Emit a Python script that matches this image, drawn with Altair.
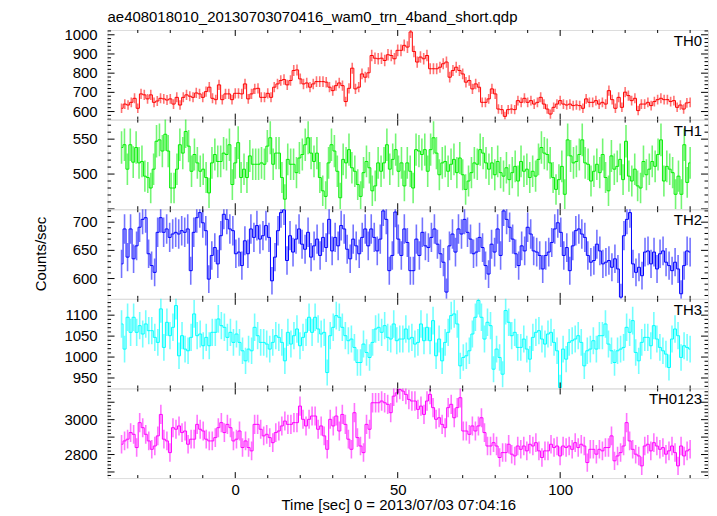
import altair as alt
import numpy as np
import pandas as pd

# ---------------- data (counts/sec per 1-s bin) ----------------
T_START, T_END = -35, 140

TH0 = [617, 639, 634, 648, 669, 617, 692, 687, 666, 687, 648, 655, 669, 666, 660, 666, 639, 674, 634, 674,
       687, 680, 674, 697, 692, 674, 704, 727, 669, 662, 739, 662, 692, 692, 662, 695, 695, 692, 744, 666,
       692, 718, 721, 674, 674, 695, 674, 727, 744, 762, 767, 739, 762, 814, 817, 770, 744, 749, 727, 744,
       756, 756, 756, 753, 727, 709, 735, 749, 735, 652, 721, 826, 718, 727, 796, 779, 802, 892, 878, 875,
       878, 866, 896, 892, 875, 919, 919, 945, 936, 1015, 913, 858, 884, 875, 892, 823, 823, 823, 831, 849,
       858, 779, 814, 831, 814, 796, 753, 762, 718, 744, 727, 648, 648, 666, 718, 692, 613, 610, 575, 610,
       613, 610, 657, 648, 669, 648, 657, 639, 648, 674, 639, 613, 587, 622, 639, 657, 639, 634, 639, 631,
       634, 631, 617, 666, 648, 648, 657, 639, 648, 639, 709, 662, 617, 674, 622, 701, 683, 657, 669, 605,
       639, 639, 648, 631, 652, 662, 669, 662, 662, 652, 657, 622, 634, 613, 645, 648]

TH1 = [538, 542, 507, 542, 517, 538, 516, 518, 497, 495, 480, 507, 547, 549, 533, 557, 533, 480, 480, 507,
       542, 530, 561, 540, 504, 528, 516, 504, 507, 495, 473, 516, 528, 518, 518, 530, 528, 542, 485, 516,
       545, 495, 507, 495, 526, 514, 514, 514, 516, 514, 540, 552, 514, 530, 530, 495, 464, 521, 514, 514,
       502, 523, 528, 542, 552, 530, 518, 530, 495, 476, 468, 516, 542, 533, 504, 466, 521, 516, 535, 509,
       504, 485, 468, 502, 518, 509, 476, 483, 516, 504, 516, 542, 507, 521, 535, 504, 516, 483, 516, 504,
       480, 535, 533, 528, 535, 504, 535, 552, 530, 499, 516, 518, 504, 514, 521, 502, 523, 499, 478, 490,
       502, 516, 514, 535, 530, 516, 507, 516, 499, 518, 502, 497, 509, 492, 502, 511, 490, 518, 504, 507,
       495, 504, 497, 521, 538, 530, 528, 516, 495, 478, 492, 511, 471, 549, 526, 516, 518, 528, 549, 516,
       514, 490, 504, 514, 502, 528, 495, 476, 526, 507, 511, 521, 492, 547, 497, 490, 507, 483, 480, 518,
       499, 507, 518, 511, 528, 549, 490, 511, 507, 502, 471, 497, 471, 542, 488, 516]

TH2 = [626, 688, 638, 688, 635, 658, 691, 705, 708, 644, 623, 611, 682, 708, 682, 688, 673, 679, 682, 679,
       685, 682, 688, 614, 682, 708, 717, 699, 685, 599, 641, 655, 626, 676, 714, 705, 688, 685, 644, 647,
       623, 667, 644, 688, 673, 694, 670, 676, 694, 673, 596, 638, 685, 717, 722, 632, 676, 647, 670, 688,
       661, 652, 682, 638, 658, 670, 641, 673, 655, 705, 649, 673, 658, 694, 688, 652, 635, 670, 658, 644,
       673, 688, 658, 688, 673, 649, 670, 720, 705, 614, 641, 718, 670, 641, 688, 664, 614, 614, 670, 641,
       682, 658, 655, 673, 688, 661, 644, 629, 576, 658, 679, 647, 688, 679, 705, 682, 670, 644, 647, 673,
       655, 623, 608, 661, 647, 688, 641, 720, 705, 691, 670, 644, 623, 658, 649, 691, 679, 649, 647, 641,
       617, 641, 647, 664, 688, 699, 682, 641, 655, 614, 658, 685, 688, 679, 673, 641, 629, 632, 661, 649,
       626, 629, 632, 620, 635, 617, 567, 676, 705, 717, 626, 611, 620, 605, 647, 649, 626, 647, 617, 644,
       649, 629, 623, 614, 629, 617, 573, 623, 649, 647]

TH3 = [1079, 1019, 1095, 1059, 1095, 1059, 1075, 1055, 1079, 1063, 1063, 1047, 1035, 1115, 1023, 1083, 1051, 1071, 1123, 1003,
       1051, 1019, 1015, 1047, 1103, 1051, 1055, 1027, 1047, 1027, 1059, 1059, 1091, 1075, 1071, 1047, 1059, 1035, 1055, 1035,
       1015, 991, 1019, 1015, 1071, 1051, 1035, 1035, 1031, 1019, 1035, 1051, 1047, 1035, 991, 1059, 1031, 1051, 1067, 1027,
       1047, 1059, 1095, 1059, 1095, 1067, 1055, 1059, 963, 1051, 1071, 1099, 1095, 1071, 1051, 1039, 1043, 1023, 987, 987,
       1031, 1011, 999, 1035, 1067, 1071, 1059, 1075, 1047, 1043, 1079, 1039, 1043, 1043, 1067, 1043, 1047, 1031, 1035, 1079,
       1039, 1071, 1039, 1087, 1003, 1043, 991, 1035, 1059, 1099, 1103, 1079, 979, 999, 1003, 1015, 1055, 1095, 1135, 1095,
       1043, 1083, 1075, 971, 1019, 999, 959, 1111, 1083, 1051, 1059, 1023, 1023, 1043, 1019, 995, 1047, 1059, 1063, 1043,
       1031, 1055, 1059, 1035, 1015, 927, 1019, 995, 1035, 1039, 1043, 1051, 1035, 979, 1015, 1019, 1039, 1019, 1051, 1051,
       1079, 1031, 1015, 987, 1015, 1019, 1023, 1071, 1059, 1087, 1011, 991, 1035, 1047, 1047, 1027, 1075, 1043, 1023, 1015,
       1007, 975, 1043, 1067, 1051, 999, 1027, 1023, 1019]

TH0123 = [2859, 2878, 2888, 2926, 2916, 2840, 2983, 2954, 2916, 2878, 2830, 2849, 2907, 3030, 2888, 2878, 2811, 2954, 2945, 2964,
          2926, 2935, 2859, 2888, 2888, 2973, 2945, 2935, 2888, 2878, 2878, 2897, 2954, 2983, 2926, 2973, 2954, 2878, 2888, 2935,
          2840, 2878, 2840, 2821, 2973, 2973, 2945, 2907, 2916, 2897, 2868, 2926, 2935, 2964, 2992, 2973, 2973, 2983, 2983, 3078,
          3002, 2964, 3002, 3021, 3021, 2945, 2964, 2907, 2830, 3002, 2964, 3021, 2935, 3030, 2973, 2888, 2830, 3040, 2897, 2849,
          2811, 2973, 2945, 3097, 3097, 3097, 3107, 3097, 3088, 3040, 3135, 3154, 3173, 3164, 3145, 3116, 3107, 3107, 3059, 3078,
          3030, 3107, 3145, 3069, 3002, 3011, 2973, 2954, 3069, 3088, 3011, 3069, 3126, 2935, 2935, 2916, 2964, 2935, 2964, 3011,
          2926, 2849, 2849, 2868, 2849, 2783, 2811, 2811, 2859, 2802, 2792, 2849, 2830, 2849, 2821, 2859, 2849, 2868, 2821, 2783,
          2821, 2821, 2859, 2840, 2849, 2792, 2849, 2840, 2849, 2830, 2868, 2840, 2859, 2849, 2754, 2830, 2830, 2802, 2830, 2821,
          2840, 2840, 2907, 2764, 2792, 2811, 2849, 2983, 2878, 2830, 2802, 2792, 2735, 2849, 2859, 2821, 2868, 2849, 2830, 2840,
          2802, 2821, 2849, 2811, 2735, 2849, 2792, 2821, 2830]

NAMES = ["TH0", "TH1", "TH2", "TH3", "TH0123"]
SERIES = [TH0, TH1, TH2, TH3, TH0123]
COLORS = ["#ff0000", "#00ee00", "#0000ff", "#00ffff", "#ff00ff"]
Y_DOMAINS = [[558, 1025], [449.6, 578], [564, 723], [925, 1139], [2665, 3179]]
Y_LABELS = [[600, 700, 800, 900, 1000], [500, 550], [600, 650, 700], [950, 1000, 1050, 1100], [2800, 3000]]
Y_MAJOR = [[600, 700, 800, 900, 1000], [450, 500, 550], [600, 650, 700], [950, 1000, 1050, 1100],
           [2700, 2800, 2900, 3000, 3100]]
Y_MINOR_STEP = [20, 10, 10, 10, 20]
X_LABELS = [0, 50, 100]
X_MINOR = [-30, -20, -10, 10, 20, 30, 40, 60, 70, 80, 90, 110, 120, 130, 140]
X_DOMAIN = [-39.3, 145.5]

TITLE = "ae408018010_20130703070416_wam0_trn_4band_short.qdp"
XTITLE = "Time [sec] 0 = 2013/07/03 07:04:16"
YTITLE = "Counts/sec"

W, H = 603, 90
FONT = "Liberation Sans"


def panel(i):
    vals = np.array(SERIES[i], dtype=float)
    t = np.linspace(T_START, T_END, len(vals))
    err = np.sqrt(vals)
    df = pd.DataFrame({"t": t, "v": vals, "lo": vals - err, "hi": vals + err})
    dom = Y_DOMAINS[i]
    xs = alt.Scale(domain=X_DOMAIN, nice=False, zero=False)
    ys = alt.Scale(domain=dom, nice=False, zero=False)
    bottom = i == len(SERIES) - 1

    xaxis = alt.Axis(values=X_LABELS, ticks=False, domain=False, grid=False, labels=bottom,
                     title=XTITLE if bottom else None, format="d",
                     labelPadding=4 if bottom else 0, titlePadding=1, titleX=292)
    yaxis = alt.Axis(ticks=False, domain=False, grid=False, labels=False, title=None)

    err_layer = alt.Chart(df).mark_rule(color=COLORS[i], opacity=0.55, strokeWidth=1.6, clip=True).encode(
        x=alt.X("t:Q", scale=xs, axis=xaxis),
        y=alt.Y("lo:Q", scale=ys, axis=yaxis),
        y2="hi:Q",
    )
    line_layer = alt.Chart(df).mark_line(interpolate="step", color=COLORS[i], strokeWidth=1, clip=True).encode(
        x=alt.X("t:Q", scale=xs),
        y=alt.Y("v:Q", scale=ys),
    )

    lo, hi = dom
    step = Y_MINOR_STEP[i]
    minor = [m for m in np.arange(np.ceil(lo / step) * step, hi, step) if m not in Y_MAJOR[i]]
    ymaj = pd.DataFrame({"y": Y_MAJOR[i]})
    ymin = pd.DataFrame({"y": minor})
    xmaj = pd.DataFrame({"x": X_LABELS})
    xmin = pd.DataFrame({"x": X_MINOR})

    def yt(d, x0, x1):
        return alt.Chart(d).mark_rule(color="black", strokeWidth=1).encode(
            y=alt.Y("y:Q", scale=ys), x=alt.value(x0), x2=alt.value(x1))

    def xt(d, y0, y1):
        return alt.Chart(d).mark_rule(color="black", strokeWidth=1).encode(
            x=alt.X("x:Q", scale=xs), y=alt.value(y0), y2=alt.value(y1))

    ticks = [
        yt(ymaj, 0, 7), yt(ymaj, W - 7, W), yt(ymin, 0, 3.5), yt(ymin, W - 3.5, W),
        xt(xmaj, 0, 6), xt(xmaj, H - 6, H), xt(xmin, 0, 3), xt(xmin, H - 3, H),
    ]

    # y tick labels, placed through the y scale
    ylab_df = pd.DataFrame({"y": Y_LABELS[i], "txt": [str(v) for v in Y_LABELS[i]]})
    ylabels = alt.Chart(ylab_df).mark_text(
        align="right", baseline="middle", fontSize=15, font=FONT, color="black").encode(
        y=alt.Y("y:Q", scale=ys), x=alt.value(-10), text="txt:N")

    lab = alt.Chart(pd.DataFrame({"name": [NAMES[i]]})).mark_text(
        align="right", baseline="alphabetic", fontSize=15, font=FONT, color="black").encode(
        x=alt.value(W - 6), y=alt.value(16), text="name:N")

    layers = [err_layer, line_layer, *ticks, ylabels, lab]
    if i == 2:
        ytitle = alt.Chart(pd.DataFrame({"t": [YTITLE]})).mark_text(
            angle=270, align="center", baseline="middle", fontSize=15, font=FONT, color="black").encode(
            x=alt.value(-67), y=alt.value(H / 2), text="t:N")
        layers.append(ytitle)

    layer = alt.layer(*layers).properties(width=W, height=H)
    if i == 0:
        layer = layer.properties(title=alt.TitleParams(
            TITLE, anchor="start", frame="group", fontSize=15, font=FONT, fontWeight="normal",
            color="black", offset=3))
    return layer


chart = alt.vconcat(*[panel(i) for i in range(len(SERIES))], spacing=0, bounds="flush").properties(
    padding={"left": 25, "top": 0, "right": 0, "bottom": 0}
).configure_view(stroke="black", strokeWidth=1.2).configure(background="white").configure_axis(
    labelFontSize=15, titleFontSize=15, labelFont=FONT, titleFont=FONT, titleFontWeight="normal",
    labelColor="black", titleColor="black"
)

chart.save("out.html", embed_options={"renderer": "svg", "actions": False})
